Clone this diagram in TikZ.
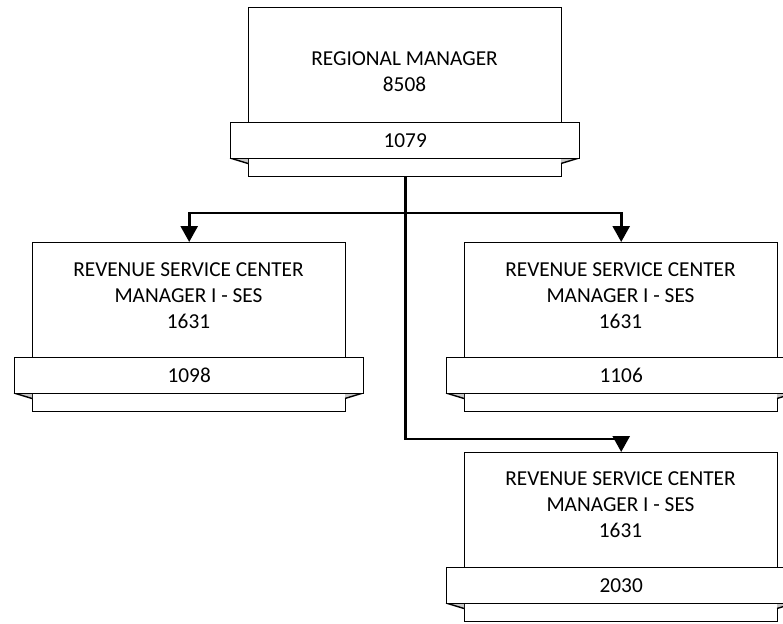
\documentclass[tikz,border=0pt]{standalone}
\usepackage{fontspec}
\setmainfont{Carlito}
\usetikzlibrary{arrows.meta}

\tikzset{
  frame/.style={draw=black, line width=1.4pt, fill=white, inner sep=0pt, anchor=north west},
  body/.style={frame, minimum width=313pt, minimum height=115pt},
  band/.style={frame, minimum width=349pt, minimum height=36pt},
  foot/.style={frame, minimum width=313pt, minimum height=17.5pt},
  foldshade/.style={fill=black!22},
  foldline/.style={draw=black, line width=1.4pt},
  title/.style={anchor=north, align=center, inner sep=0pt, font=\fontsize{21.3}{26}\selectfont},
  code/.style={inner sep=0pt, font=\fontsize{21.3}{26}\selectfont},
  link/.style={draw=black, line width=2.6pt},
  tip/.style={-{Triangle[length=16pt,width=17pt]}}
}

% #1 name, #2 left x, #3 top y, #4 title offset from top, #5 title, #6 position code
\newcommand\orgunit[6]{%
  \node[foot] (#1-foot) at (#2, {#3+151}) {};
  \fill[foldshade] ({#2-18}, {#3+151}) -- (#2, {#3+151}) -- (#2, {#3+156.5}) -- cycle;
  \draw[foldline] ({#2-18}, {#3+151}) -- (#2, {#3+156.5});
  \fill[foldshade] ({#2+331}, {#3+151}) -- ({#2+313}, {#3+151}) -- ({#2+313}, {#3+156.5}) -- cycle;
  \draw[foldline] ({#2+331}, {#3+151}) -- ({#2+313}, {#3+156.5});
  \node[band] (#1-band) at ({#2-18}, {#3+115}) {};
  \node[body] (#1) at (#2, #3) {};
  \node[title] (#1-title) at ({#2+156.5}, {#3+#4}) {#5};
  \node[code] (#1-code) at (#1-band.center) {#6};
}

\begin{document}
\begin{tikzpicture}[x=1pt, y=-1pt]
  \useasboundingbox[fill=white] (0,0) rectangle (783,623);

  \orgunit{rm}{248}{7}{44.7}{REGIONAL MANAGER\\8508}{1079}
  \orgunit{rsc1}{32}{242}{20.3}{REVENUE SERVICE CENTER\\MANAGER I - SES\\1631}{1098}
  \orgunit{rsc2}{464}{242}{20.3}{REVENUE SERVICE CENTER\\MANAGER I - SES\\1631}{1106}
  \orgunit{rsc3}{464}{452}{19.7}{REVENUE SERVICE CENTER\\MANAGER I - SES\\1631}{2030}

  % reporting lines: one trunk down to the lowest unit, two side branches
  \coordinate (split) at (rm-foot.south |- 0,213);
  \coordinate (turn) at (rm-foot.south |- 0,439);
  \draw[link, tip] (rm-foot.south) -- (turn) -| (rsc3.north);
  \draw[link, tip] (split) -| (rsc1.north);
  \draw[link, tip] (split) -| (rsc2.north);
\end{tikzpicture}
\end{document}
